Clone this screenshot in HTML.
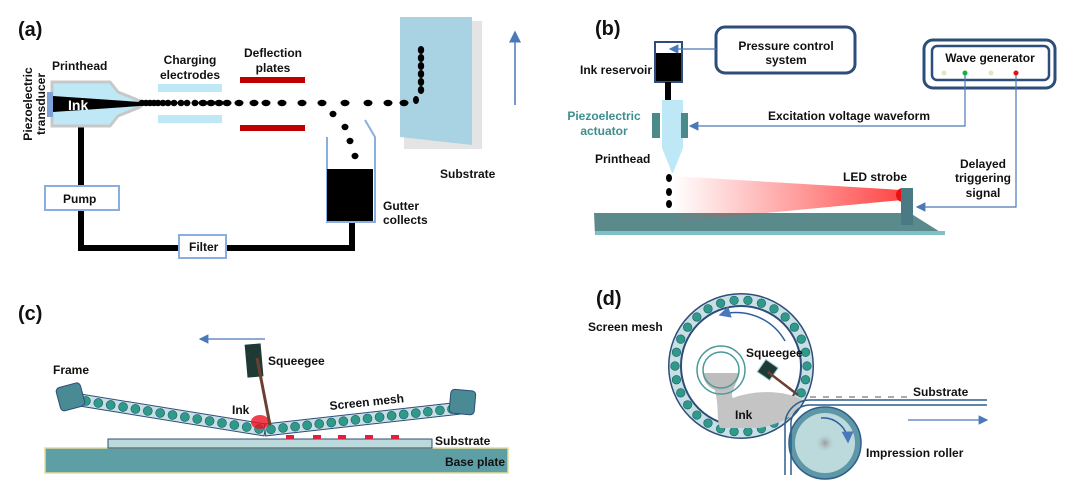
<!DOCTYPE html>
<html><head><meta charset="utf-8"><style>
body{margin:0;background:#fff}
svg{display:block}
text{font-family:"Liberation Sans",sans-serif;font-weight:bold;font-size:12px;fill:#111}
.t{font-size:20px}
</style></head><body>
<svg id="s" width="1074" height="502" viewBox="0 0 1074 502" xmlns="http://www.w3.org/2000/svg">
<defs>
<linearGradient id="beam" x1="0" x2="1"><stop offset="0" stop-color="#ff4040" stop-opacity="0"/><stop offset="1" stop-color="#ff3030" stop-opacity="0.9"/></linearGradient>
<radialGradient id="hub"><stop offset="0" stop-color="#9a9a9a"/><stop offset="1" stop-color="#bcd9dc" stop-opacity="0"/></radialGradient>
<marker id="ar" markerWidth="8" markerHeight="8" refX="7" refY="4" orient="auto"><path d="M0,0 L8,4 L0,8 z" fill="#4a78b8"/></marker>
</defs>
<!-- (a) -->
<text x="18" y="36" class="t">(a)</text>
<path d="M81,125 V248 H352 V221" fill="none" stroke="#000" stroke-width="6"/>
<rect x="45" y="186" width="74" height="24" fill="#fff" stroke="#8aaee0" stroke-width="2"/>
<text x="63" y="203">Pump</text>
<rect x="179" y="235" width="47" height="23" fill="#fff" stroke="#8aaee0" stroke-width="2"/>
<text x="189" y="251">Filter</text>
<path d="M52,82 H110 L118,92 L140,101 V107 L118,116 L110,126 H52 Z" fill="#bfe8f7" stroke="#c8c8c8" stroke-width="3"/>
<rect x="47" y="92" width="6" height="25" fill="#7fa3d8"/>
<path d="M53,96 L140,102 V106 L53,112 Z" fill="#000"/>
<text x="68" y="110" fill="#fff" style="fill:#fff;font-size:14px">Ink</text>
<text x="52" y="70">Printhead</text>
<text transform="translate(34,104) rotate(-90)" text-anchor="middle" y="-2">Piezoelectric</text>
<text transform="translate(34,104) rotate(-90)" text-anchor="middle" y="11">transducer</text>
<rect x="158" y="84" width="64" height="8" fill="#bfe8f7"/>
<rect x="158" y="115" width="64" height="8" fill="#bfe8f7"/>
<text x="190" y="64" text-anchor="middle">Charging</text>
<text x="190" y="79" text-anchor="middle">electrodes</text>
<rect x="240" y="77" width="65" height="6" fill="#c00000"/>
<rect x="240" y="125" width="65" height="6" fill="#c00000"/>
<text x="273" y="57" text-anchor="middle">Deflection</text>
<text x="273" y="72" text-anchor="middle">plates</text>
<path d="M327,137 V222 H375 V137 L365,120" fill="none" stroke="#8aaee0" stroke-width="2"/>
<rect x="327" y="169" width="46" height="52" fill="#000"/>
<text x="383" y="210">Gutter</text><text x="383" y="224">collects</text>
<rect x="404" y="21" width="78" height="128" fill="#e4e4e4"/>
<path d="M400,17 L472,17 L472,145 L400,137 Z" fill="#a9d3e3"/>
<text x="440" y="178">Substrate</text>
<line x1="515" y1="105" x2="515" y2="32" stroke="#4a78b8" stroke-width="1.5" marker-end="url(#ar)"/>
<g id="drops"></g>
<!-- (b) -->
<text x="595" y="35" class="t">(b)</text>
<rect x="716" y="27" width="139" height="46" rx="9" fill="#fff" stroke="#2d4d7a" stroke-width="3"/>
<text x="786" y="50" text-anchor="middle">Pressure control</text>
<text x="786" y="64" text-anchor="middle">system</text>
<rect x="655" y="42" width="27" height="40" fill="#000" stroke="#2d4d7a" stroke-width="2"/>
<rect x="656" y="43" width="25" height="10" fill="#fff"/>
<line x1="716" y1="49" x2="670" y2="49" stroke="#4a78b8" stroke-width="1.2" marker-end="url(#ar)"/>
<text x="580" y="74">Ink reservoir</text>
<rect x="665" y="82" width="6" height="18" fill="#000"/>
<path d="M662,100 H683 V148 L673,173 L672,173 L662,148 Z" fill="#bfe8f7"/>
<rect x="652" y="113" width="8" height="25" fill="#4a8a8a"/>
<rect x="681" y="113" width="7" height="25" fill="#4a8a8a"/>
<text x="604" y="120" text-anchor="middle" style="fill:#3d8f8f">Piezoelectric</text>
<text x="604" y="135" text-anchor="middle" style="fill:#3d8f8f">actuator</text>
<text x="595" y="163">Printhead</text>
<rect x="924" y="40" width="131" height="48" rx="9" fill="#fff" stroke="#2d4d7a" stroke-width="3"/>
<rect x="932" y="46" width="117" height="34" rx="5" fill="#fff" stroke="#2d4d7a" stroke-width="2.5"/>
<text x="990" y="62" text-anchor="middle">Wave generator</text>
<circle cx="944" cy="73" r="2.5" fill="#dde8c0"/><circle cx="965" cy="73" r="2.5" fill="#18b040"/><circle cx="991" cy="73" r="2.5" fill="#dde8c0"/><circle cx="1016" cy="73" r="2.5" fill="#e01010"/>
<path d="M965,75 V126 H690" fill="none" stroke="#4a78b8" stroke-width="1.2" marker-end="url(#ar)"/>
<text x="849" y="120" text-anchor="middle">Excitation voltage waveform</text>
<path d="M1016,75 V207 H917" fill="none" stroke="#4a78b8" stroke-width="1.2" marker-end="url(#ar)"/>
<text x="983" y="168" text-anchor="middle">Delayed</text><text x="983" y="182" text-anchor="middle">triggering</text><text x="983" y="197" text-anchor="middle">signal</text>
<path d="M594,213 H910 L945,235 H595 Z" fill="#5a8a8c"/>
<rect x="595" y="231" width="350" height="4" fill="#7fc0c8"/>
<path d="M672,176 L902,190 L902,200 L672,222 Z" fill="url(#beam)"/>
<circle cx="903" cy="195" r="7" fill="#ee1010"/>
<rect x="901" y="188" width="12" height="37" fill="#4a7a84"/>
<text x="875" y="181" text-anchor="middle">LED strobe</text>
<!-- (c) -->
<text x="18" y="320" class="t">(c)</text>
<line x1="265" y1="339" x2="200" y2="339" stroke="#4a78b8" stroke-width="1.2" marker-end="url(#ar)"/>
<rect x="45" y="448" width="463" height="25" fill="#5e9ea5" stroke="#e6dc9a" stroke-width="1.5"/>
<text x="505" y="466" text-anchor="end">Base plate</text>
<rect x="108" y="439" width="324" height="9" fill="#bcd9dc" stroke="#2d4d7a" stroke-width="1"/>
<g fill="#e02040"><rect x="286" y="435" width="8" height="4"/><rect x="313" y="435" width="8" height="4"/><rect x="338" y="435" width="8" height="4"/><rect x="365" y="435" width="8" height="4"/><rect x="391" y="435" width="8" height="4"/></g>
<text x="435" y="445">Substrate</text>
<g id="meshc"></g>
<rect x="58" y="385" width="25" height="24" rx="4" transform="rotate(-15 70 397)" fill="#4a8a94" stroke="#2d4d7a"/>
<rect x="450" y="390" width="25" height="24" rx="4" transform="rotate(5 462 402)" fill="#4a8a94" stroke="#2d4d7a"/>
<ellipse cx="260" cy="422" rx="9" ry="7" fill="#ee1020" opacity="0.8"/>
<rect x="246" y="344" width="16" height="33" fill="#1f3a34" transform="rotate(-5 254 360)"/>
<line x1="257" y1="358" x2="270" y2="425" stroke="#6a4030" stroke-width="3"/>
<text x="268" y="365">Squeegee</text>
<text x="53" y="374">Frame</text>
<text x="232" y="414">Ink</text>
<text x="330" y="410" transform="rotate(-6 330 410)">Screen mesh</text>
<!-- (d) -->
<text x="596" y="305" class="t">(d)</text>
<text x="588" y="331">Screen mesh</text>
<circle cx="741" cy="366" r="72" fill="#fff" stroke="#2d4d7a" stroke-width="2"/>
<circle cx="741" cy="366" r="66" fill="none" stroke="#c8e0e4" stroke-width="11"/>
<circle cx="741" cy="366" r="60" fill="#fff" stroke="#2d4d7a" stroke-width="2"/>
<g id="meshd"></g>
<path d="M708,373 H734 C742,382 728,392 733,398 C760,388 790,392 802,400 C795,418 780,423 760,428 L720,428 C715,415 722,400 708,373 Z" fill="#c4c4c4"/>
<circle cx="721" cy="370" r="24" fill="none" stroke="#4a9a9a" stroke-width="1.5"/>
<path d="M703,373 A18,18 0 0,0 739,373 Z" fill="#bdbdbd"/>
<circle cx="721" cy="370" r="18" fill="none" stroke="#4a9a9a" stroke-width="1.5"/>
<path d="M785,341 A56,56 0 0,0 720,315" fill="none" stroke="#2d5fa0" stroke-width="1.5" marker-end="url(#ar)"/>
<rect x="760" y="362" width="15" height="15" fill="#1f3a34" transform="rotate(35 767 370)" stroke="#9cc"/>
<line x1="768" y1="372" x2="798" y2="395" stroke="#6a4030" stroke-width="2.5"/>
<text x="746" y="357">Squeegee</text>
<text x="735" y="419">Ink</text>
<circle cx="825" cy="443" r="36" fill="#5f97a6" stroke="#2d5f8a" stroke-width="1.5"/>
<circle cx="825" cy="443" r="30" fill="#bcd9dc"/>
<circle cx="825" cy="443" r="10" fill="url(#hub)"/>
<path d="M821,418 A25,25 0 0,1 848,442" fill="none" stroke="#2d5fa0" stroke-width="1.5" marker-end="url(#ar)"/>
<path d="M785,475 V425 A25,25 0 0,1 810,400 H987 M791,475 V426 A19,19 0 0,1 810,405 H987" fill="none" stroke="#2d5f8a" stroke-width="1.5"/>
<line x1="810" y1="397" x2="908" y2="397" stroke="#aaa" stroke-width="2" stroke-dasharray="6,7"/>
<text x="913" y="396">Substrate</text>
<line x1="908" y1="420" x2="987" y2="420" stroke="#4a78b8" stroke-width="1.2" marker-end="url(#ar)"/>
<text x="866" y="457">Impression roller</text>
</svg>
<script>
var NS="http://www.w3.org/2000/svg";
function el(p,t,a){var e=document.createElementNS(NS,t);for(var k in a)e.setAttribute(k,a[k]);p.appendChild(e);return e;}
var d=document.getElementById("drops");
var xs=[142,146,150,154,158,163,168,174,181,187,195,203,211,219,227,239,254,266,282,302,322,345,368,388,404];
xs.forEach(function(x){el(d,"ellipse",{cx:x,cy:103,rx:x<200?3.5:4.5,ry:3.2,fill:"#000"})});
[50,58,66,74,82,90].forEach(function(y){el(d,"ellipse",{cx:421,cy:y,rx:3.2,ry:4,fill:"#000"})});
el(d,"ellipse",{cx:416,cy:100,rx:3,ry:4,fill:"#000"});
[[333,114],[345,127],[350,141],[355,156]].forEach(function(p){el(d,"ellipse",{cx:p[0],cy:p[1],rx:3.5,ry:3.2,fill:"#000"})});
[178,192,204].forEach(function(y){el(d,"ellipse",{cx:669,cy:y,rx:3,ry:4,fill:"#000"})});
el(d,"ellipse",{cx:666,cy:217,rx:3.5,ry:2.5,fill:"#000"});
[612,620,628,636,644].forEach(function(x){el(d,"ellipse",{cx:x,cy:225,rx:3.8,ry:2.5,fill:"#000"})});
function band(g,x1,y1,x2,y2,n){
 var a=Math.atan2(y2-y1,x2-x1)*180/Math.PI,L=Math.hypot(x2-x1,y2-y1);
 var gg=el(g,"g",{transform:"translate("+x1+","+y1+") rotate("+a+")"});
 el(gg,"rect",{x:0,y:-6,width:L,height:12,fill:"#c8e0e4",stroke:"#2d4d7a","stroke-width":1});
 for(var i=0;i<n;i++)el(gg,"circle",{cx:6+i*(L-12)/(n-1),cy:0,r:4.5,fill:"#2f9a8a",stroke:"#1d5a6a","stroke-width":0.6});
}
var c=document.getElementById("meshc");
band(c,80,400,265,430,15);band(c,265,430,470,407,17);
var m=document.getElementById("meshd");
for(var i=0;i<30;i++){var t=i/30*2*Math.PI;el(m,"circle",{cx:741+66*Math.cos(t),cy:366+66*Math.sin(t),r:4.3,fill:"#2f9a8a",stroke:"#1d5a6a","stroke-width":0.6});}
</script>
</body></html>
